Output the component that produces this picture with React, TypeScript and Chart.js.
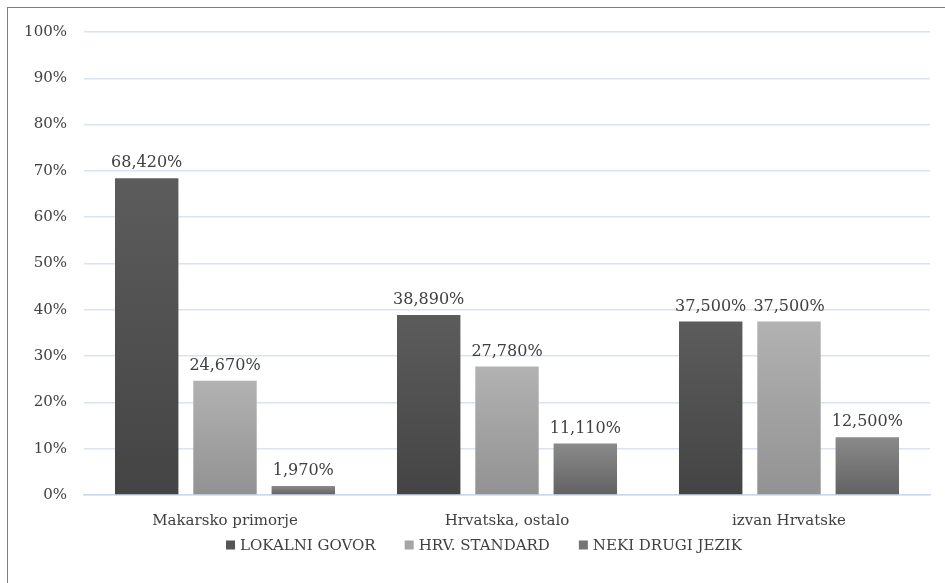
import React, { useEffect, useRef } from "react";
import { Chart, registerables } from "chart.js";

Chart.register(...registerables);

const categories = ["Makarsko primorje", "Hrvatska, ostalo", "izvan Hrvatske"];
const seriesNames = ["LOKALNI GOVOR", "HRV. STANDARD", "NEKI DRUGI JEZIK"];
const lokalniGovor = [68.42, 38.89, 37.5];
const hrvStandard = [24.67, 27.78, 37.5];
const nekiDrugiJezik = [1.97, 11.11, 12.5];

const FONT = "'DejaVu Serif', serif";
const TEXT = "#404040";

const gradients: [string, string][] = [
  ["#5c5c5c", "#444444"],
  ["#b2b2b2", "#929292"],
  ["#8a8a8a", "#626262"],
];
const legendColors = ["#555555", "#a5a5a5", "#767676"];

function barFill(idx: number) {
  return (ctx: any) => {
    const chart = ctx.chart;
    if (!chart.chartArea || !chart.scales || !chart.scales.y) return legendColors[idx];
    const y = chart.scales.y;
    const v = ctx.raw as number;
    const top = y.getPixelForValue(v);
    const bottom = y.getPixelForValue(0);
    if (!isFinite(top) || !isFinite(bottom) || Math.abs(bottom - top) < 1) return legendColors[idx];
    const g = chart.ctx.createLinearGradient(0, top, 0, bottom);
    g.addColorStop(0, gradients[idx][0]);
    g.addColorStop(1, gradients[idx][1]);
    return g;
  };
}

const dataLabelPlugin = {
  id: "dataLabels",
  afterDatasetsDraw(chart: any) {
    const c = chart.ctx;
    c.save();
    c.font = `16px ${FONT}`;
    c.fillStyle = TEXT;
    c.textAlign = "center";
    c.textBaseline = "bottom";
    chart.data.datasets.forEach((ds: any, di: number) => {
      const meta = chart.getDatasetMeta(di);
      meta.data.forEach((bar: any, i: number) => {
        const v = ds.data[i] as number;
        const label = v.toFixed(3).replace(".", ",") + "%";
        c.fillText(label, bar.x, bar.y - 7);
      });
    });
    c.restore();
  },
};

const LEGEND_CENTER_X = 484;
const LEGEND_Y = 545;
const BOX = 9;
const BOX_GAP = 5;
const ITEM_GAP = 29;

const legendPlugin = {
  id: "customLegend",
  afterDraw(chart: any) {
    const c = chart.ctx;
    c.save();
    c.font = `15px ${FONT}`;
    c.textBaseline = "middle";
    c.textAlign = "left";
    const widths = seriesNames.map((n) => BOX + BOX_GAP + c.measureText(n).width);
    const total = widths.reduce((a, b) => a + b, 0) + ITEM_GAP * (seriesNames.length - 1);
    let x = LEGEND_CENTER_X - total / 2;
    seriesNames.forEach((n, i) => {
      c.fillStyle = legendColors[i];
      c.fillRect(x, LEGEND_Y - BOX / 2, BOX, BOX);
      c.fillStyle = TEXT;
      c.fillText(n, x + BOX + BOX_GAP, LEGEND_Y + 1);
      x += widths[i] + ITEM_GAP;
    });
    c.restore();
  },
};

export default function App() {
  const ref = useRef<HTMLCanvasElement | null>(null);
  useEffect(() => {
    if (!ref.current) return;
    const values = [lokalniGovor, hrvStandard, nekiDrugiJezik];
    const chart = new Chart(ref.current, {
      type: "bar",
      data: {
        labels: categories,
        datasets: values.map((d, i) => ({
          label: seriesNames[i],
          data: d,
          backgroundColor: barFill(i) as any,
          borderWidth: 0,
          categoryPercentage: 0.833,
          barPercentage: 0.81,
        })),
      },
      options: {
        responsive: false,
        animation: false,
        layout: { padding: { top: 32, right: 15, bottom: 52, left: 0 } },
        plugins: {
          legend: { display: false },
          tooltip: { enabled: false },
        },
        scales: {
          x: {
            grid: { display: false, drawTicks: false },
            border: { display: true, color: "#cbd8ec", width: 1.5 },
            ticks: { font: { family: FONT, size: 15 }, color: TEXT, padding: 17 },
            afterFit: (s: any) => {
              s.height = 36;
            },
          },
          y: {
            min: 0,
            max: 100,
            grid: { color: "#d9e3f1", lineWidth: 1.5, drawTicks: false },
            border: { display: false },
            ticks: {
              stepSize: 10,
              font: { family: FONT, size: 15 },
              color: TEXT,
              padding: 17,
              callback: (v: any) => `${v}%`,
            },
            afterFit: (s: any) => {
              s.width = 84;
            },
          },
        },
      },
      plugins: [dataLabelPlugin, legendPlugin],
    });
    return () => chart.destroy();
  }, []);

  return (
    <div
      style={{
        position: "fixed",
        left: 0,
        top: 0,
        width: 945,
        height: 583,
        overflow: "hidden",
        background: "#ffffff",
      }}
    >
      <div
        style={{
          position: "absolute",
          left: 7,
          top: 7,
          width: 1100,
          height: 1100,
          border: "1px solid #7e7e7e",
          boxSizing: "border-box",
        }}
      />
      <canvas
        ref={ref}
        width={945}
        height={583}
        style={{ position: "absolute", left: 0, top: 0, width: 945, height: 583 }}
      />
    </div>
  );
}
